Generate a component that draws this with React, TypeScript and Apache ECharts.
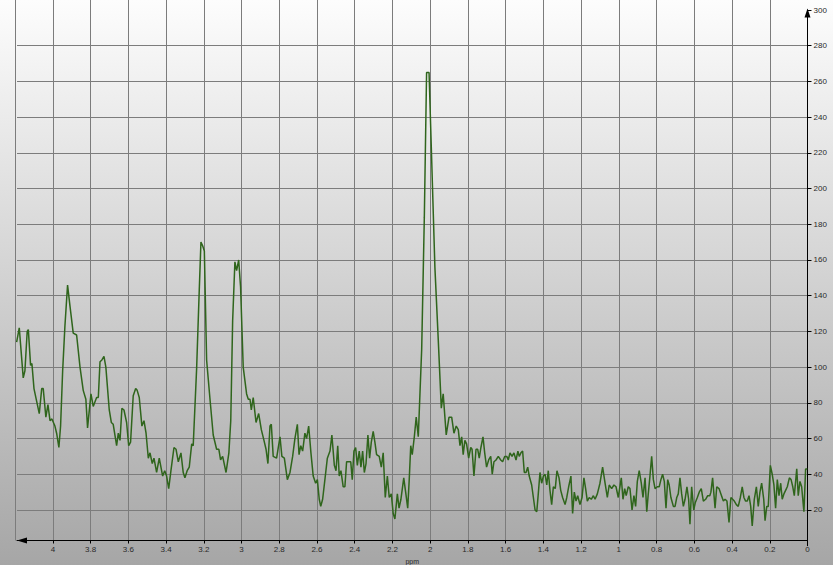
import React, { useEffect, useRef } from "react";
import * as echarts from "echarts";

// axis settings
const ppmMax = 4.19;
const ppmStep = 0.2;
const intensityMax = 300;
const intensityStep = 20;
const xAxisName = "ppm";

// spectrum: [ppm, intensity]
const region1: [number, number][] = [
  [4.192, 114], [4.178, 122], [4.157, 94], [4.148, 98], [4.136, 120], [4.13, 121], [4.118, 101], [4.111, 102],
  [4.1, 88], [4.086, 81], [4.072, 74], [4.059, 88], [4.051, 88], [4.037, 72], [4.026, 79], [4.015, 70],
  [4.005, 71], [3.989, 67], [3.98, 63], [3.968, 55], [3.959, 67], [3.948, 98], [3.936, 123], [3.922, 146],
  [3.909, 134], [3.892, 119], [3.874, 118], [3.856, 100], [3.839, 87], [3.825, 82], [3.816, 66], [3.798, 85],
  [3.786, 78], [3.768, 83], [3.759, 83], [3.75, 103], [3.74, 104], [3.729, 106], [3.719, 100], [3.701, 76],
  [3.69, 69], [3.68, 68], [3.662, 56], [3.653, 63], [3.644, 59], [3.634, 77], [3.623, 76], [3.609, 69],
  [3.598, 56], [3.588, 58], [3.574, 84], [3.561, 88], [3.553, 87], [3.542, 83], [3.528, 67], [3.517, 70],
  [3.506, 63], [3.494, 49], [3.485, 52], [3.473, 46], [3.464, 49], [3.45, 41], [3.436, 49], [3.418, 39],
  [3.407, 42], [3.397, 39], [3.386, 32], [3.374, 42], [3.358, 55], [3.347, 54], [3.335, 47], [3.321, 52],
  [3.309, 41], [3.3, 38], [3.288, 42], [3.277, 44], [3.264, 57], [3.256, 56],
];

const region2: [number, number][] = [
  [3.238, 99], [3.224, 143], [3.215, 170], [3.206, 168], [3.197, 165], [3.185, 104], [3.167, 82], [3.15, 62],
  [3.132, 54], [3.12, 54], [3.111, 48], [3.1, 50], [3.082, 41], [3.067, 52], [3.057, 70], [3.047, 126],
  [3.035, 159], [3.026, 154], [3.015, 160], [3.005, 145], [2.991, 100], [2.973, 85], [2.964, 82], [2.955, 82],
  [2.948, 76], [2.938, 83], [2.923, 69], [2.909, 74], [2.895, 65], [2.881, 59], [2.87, 54], [2.86, 46],
  [2.849, 67], [2.842, 68], [2.832, 50], [2.814, 49], [2.796, 61], [2.786, 50], [2.773, 49], [2.757, 37],
  [2.743, 41], [2.729, 50], [2.717, 60], [2.704, 68], [2.695, 51], [2.686, 56], [2.676, 53], [2.664, 63],
  [2.655, 60], [2.644, 67], [2.632, 52], [2.62, 39], [2.607, 35], [2.598, 37], [2.588, 26], [2.58, 22],
  [2.57, 26], [2.558, 37], [2.545, 49], [2.531, 53], [2.521, 62], [2.508, 45], [2.499, 42], [2.49, 56],
  [2.482, 39], [2.473, 42], [2.461, 33], [2.452, 33], [2.443, 47], [2.429, 47], [2.421, 47], [2.413, 37],
  [2.404, 53], [2.395, 55], [2.386, 45], [2.376, 53], [2.367, 44], [2.358, 53], [2.349, 41], [2.34, 46],
  [2.33, 62], [2.321, 49], [2.312, 58], [2.302, 64], [2.293, 58], [2.284, 51], [2.27, 50], [2.259, 44],
  [2.249, 52], [2.238, 27], [2.227, 39], [2.217, 27], [2.206, 29], [2.196, 18], [2.187, 15], [2.174, 29],
  [2.165, 21], [2.155, 26], [2.14, 38], [2.13, 30], [2.119, 21], [2.111, 37],
];

const region3: [number, number][] = [
  [2.103, 56], [2.095, 51], [2.084, 61], [2.074, 72], [2.063, 61], [2.045, 110], [2.031, 184], [2.019, 265],
  [2.006, 265], [1.992, 216], [1.975, 156], [1.957, 115], [1.941, 77], [1.931, 85], [1.915, 62], [1.9, 72],
  [1.886, 72], [1.874, 63], [1.862, 67], [1.851, 65], [1.842, 56], [1.833, 61], [1.825, 51], [1.816, 59],
  [1.807, 57], [1.796, 49], [1.785, 55], [1.778, 54], [1.768, 39], [1.757, 54], [1.748, 54], [1.74, 49],
  [1.731, 55], [1.72, 61], [1.711, 52], [1.701, 44], [1.69, 48], [1.679, 50], [1.671, 40], [1.662, 47],
  [1.651, 48], [1.639, 50], [1.626, 48], [1.616, 47], [1.605, 50], [1.594, 50], [1.586, 48], [1.577, 52],
  [1.566, 50], [1.556, 52], [1.545, 48], [1.535, 53], [1.528, 50], [1.519, 52], [1.51, 53], [1.501, 41],
  [1.492, 41], [1.483, 44], [1.475, 39], [1.462, 34], [1.453, 27], [1.444, 20], [1.435, 19], [1.427, 29],
  [1.418, 41], [1.409, 35], [1.4, 39], [1.391, 40], [1.382, 34], [1.374, 42], [1.365, 31], [1.356, 23],
  [1.347, 33], [1.337, 32], [1.328, 42], [1.317, 38], [1.308, 31], [1.298, 27], [1.285, 23], [1.276, 27],
  [1.266, 33], [1.254, 39], [1.245, 18], [1.236, 30], [1.227, 25], [1.218, 28], [1.206, 23], [1.195, 27],
  [1.185, 38], [1.176, 32], [1.167, 25], [1.157, 27], [1.146, 26], [1.135, 28], [1.126, 26], [1.114, 29],
  [1.1, 35], [1.086, 44], [1.073, 35], [1.061, 27], [1.051, 34], [1.038, 32], [1.026, 34], [1.015, 33],
];

const region4: [number, number][] = [
  [1.003, 27], [0.987, 38], [0.978, 26], [0.969, 32], [0.961, 28], [0.95, 33], [0.941, 32], [0.93, 20],
  [0.92, 28], [0.911, 22], [0.902, 36], [0.892, 42], [0.881, 35], [0.872, 27], [0.861, 38], [0.852, 19],
  [0.844, 29], [0.835, 39], [0.826, 50], [0.817, 37], [0.808, 32], [0.796, 33], [0.786, 33], [0.777, 37],
  [0.768, 40], [0.759, 36], [0.75, 21], [0.741, 37], [0.733, 34], [0.724, 27], [0.711, 22], [0.702, 22],
  [0.693, 27], [0.685, 29], [0.676, 38], [0.667, 29], [0.658, 22], [0.649, 26], [0.639, 33], [0.63, 26],
  [0.623, 12], [0.614, 33], [0.603, 20], [0.595, 24], [0.584, 27], [0.574, 30], [0.563, 32], [0.552, 25],
  [0.54, 26], [0.529, 28], [0.518, 28], [0.512, 30], [0.503, 38], [0.49, 21], [0.481, 33], [0.469, 32],
  [0.459, 29], [0.446, 25], [0.437, 26], [0.427, 25], [0.416, 13], [0.406, 27], [0.397, 26], [0.388, 25],
  [0.377, 23], [0.367, 22], [0.356, 27], [0.346, 33], [0.337, 27], [0.328, 25], [0.319, 25], [0.31, 28],
  [0.301, 22], [0.293, 11], [0.282, 26], [0.271, 33], [0.261, 22], [0.252, 30], [0.243, 35], [0.232, 26],
  [0.225, 14], [0.216, 22], [0.208, 22], [0.197, 45], [0.187, 40], [0.178, 34], [0.169, 21], [0.16, 37],
  [0.151, 28], [0.142, 35], [0.134, 26], [0.125, 29], [0.116, 31], [0.107, 33], [0.096, 38], [0.087, 37],
  [0.078, 33], [0.07, 28], [0.057, 43], [0.049, 28], [0.04, 36], [0.031, 33], [0.019, 19], [0.01, 43],
  [0.001, 43],
];

const spectrum = [...region1, ...region2, ...region3, ...region4];

export default function App() {
  const ref = useRef<HTMLDivElement>(null);

  useEffect(() => {
    if (!ref.current) return;
    const chart = echarts.init(ref.current, null, { renderer: "svg" });
    const W = 833;
    const left = 17;
    const right = 25.5;
    const top = 10;
    const bottom = 19.3;
    const pxPerPpm = (W - left - right) / ppmMax;
    const gridLeftB = 7;
    const ppmMaxB = (W - right - gridLeftB) / pxPerPpm;
    const gridColor = "#7c7c7c";
    const font = "Liberation Sans, Arial, sans-serif";
    const labelStyle = { fontSize: 8, color: "#2a2a2a", fontFamily: font };

    chart.setOption({
      animation: false,
      backgroundColor: "transparent",
      grid: [
        { left, right, top, bottom, containLabel: false, outerBoundsMode: "none" },
        { left: gridLeftB, right, top: 0, bottom: 24.5, containLabel: false, outerBoundsMode: "none" },
      ],
      xAxis: [
        {
          type: "value",
          gridIndex: 0,
          inverse: true,
          min: 0,
          max: ppmMax,
          interval: ppmStep,
          offset: -5.2,
          name: xAxisName,
          nameLocation: "middle",
          nameGap: 16,
          nameTextStyle: { fontSize: 7, color: "#2a2a2a", fontFamily: font },
          axisLine: {
            show: true,
            symbol: ["triangle", "none"],
            symbolSize: [6, 10],
            symbolOffset: [5, 0],
            lineStyle: { color: "#000", width: 1 },
          },
          axisTick: { show: true, length: 3, lineStyle: { color: "#000" } },
          axisLabel: { ...labelStyle, margin: 5, showMaxLabel: false },
          splitLine: { show: false },
        },
        {
          type: "value",
          gridIndex: 1,
          inverse: true,
          min: 0,
          max: ppmMaxB,
          interval: ppmStep,
          axisLine: { show: false },
          axisTick: { show: false },
          axisLabel: { show: false },
          splitLine: {
            show: true,
            showMaxLine: false,
            showMinLine: false,
            lineStyle: { color: gridColor, width: 1 },
          },
        },
      ],
      yAxis: [
        {
          type: "value",
          gridIndex: 0,
          position: "right",
          min: 0,
          max: intensityMax,
          interval: intensityStep,
          axisLine: {
            show: true,
            symbol: ["none", "triangle"],
            symbolSize: [6, 9],
            symbolOffset: [0, -3],
            lineStyle: { color: "#000", width: 1 },
          },
          axisTick: { show: true, length: 4, lineStyle: { color: "#000" } },
          axisLabel: { ...labelStyle, margin: 6, showMinLabel: false },
          splitLine: {
            show: true,
            showMinLine: false,
            showMaxLine: false,
            lineStyle: { color: gridColor, width: 1 },
          },
        },
        {
          type: "value",
          gridIndex: 1,
          min: 0,
          max: 1,
          show: false,
        },
      ],
      series: [
        {
          type: "line",
          xAxisIndex: 0,
          yAxisIndex: 0,
          data: spectrum,
          showSymbol: false,
          symbol: "none",
          clip: true,
          lineStyle: { color: "#2f651c", width: 1.5 },
        },
      ],
    });

    return () => chart.dispose();
  }, []);

  return (
    <div
      ref={ref}
      style={{
        position: "fixed",
        left: 0,
        top: 0,
        width: 833,
        height: 565,
        background: "linear-gradient(to bottom, #fdfdfd 0%, #d6d6d6 45%, #a6a6a6 100%)",
      }}
    />
  );
}
